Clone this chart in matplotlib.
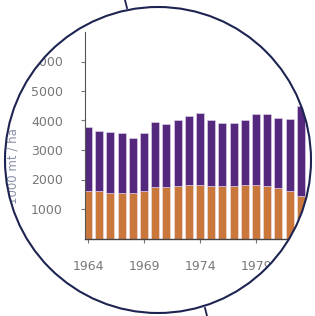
import numpy as np
import matplotlib.pyplot as plt
from matplotlib.patches import PathPatch
from matplotlib.path import Path
from matplotlib.lines import Line2D
from matplotlib.transforms import Affine2D

# data (1000 t)
years = list(range(1964, 1984))
total = [3780, 3630, 3610, 3580, 3420, 3590, 3940, 3880, 4020, 4150,
         4250, 4030, 3930, 3930, 4030, 4220, 4220, 4080, 4040, 4500]
lower = [1600, 1600, 1550, 1550, 1550, 1600, 1750, 1750, 1780, 1800,
         1800, 1780, 1780, 1780, 1800, 1820, 1780, 1720, 1600, 1450]
upper = [t - l for t, l in zip(total, lower)]
tick_years = [1964, 1969, 1974, 1979]
yticks = [1000, 2000, 3000, 4000, 5000, 6000]

W, H = 315, 316
fig = plt.figure(figsize=(W / 100, H / 100), dpi=100)
fig.patch.set_facecolor('white')
# pixel coords, origin top-left
px = Affine2D().scale(1, -1).translate(0, H).scale(1 / W, 1 / H) + fig.transFigure

# axes placed in pixel terms
x0, x1 = 85, 318
yb, yt = 238.5, 32
ax = fig.add_axes([x0 / W, 1 - yb / H, (x1 - x0) / W, (yb - yt) / H])

x = np.arange(len(years))
ax.bar(x, lower, width=0.72, color='#c9773b', edgecolor='#f3e3ee', linewidth=0.4)
ax.bar(x, upper, bottom=lower, width=0.72, color='#53287d', edgecolor='#e6d8f0', linewidth=0.4)

ax.set_xlim(-0.27, -0.27 + (x1 - x0) / 11.2)
ax.set_ylim(0, 7000)
ax.set_yticks(yticks)
ax.set_yticklabels([str(v) for v in yticks])
ax.set_xticks([years.index(y) for y in tick_years])
ax.set_xticklabels([str(y) for y in tick_years])
ax.tick_params(axis='y', direction='out', length=3, pad=13, labelsize=9,
               colors='#777777', labelcolor='#777777')
ax.tick_params(axis='x', direction='out', length=3, pad=12.5, labelsize=9,
               colors='#777777', labelcolor='#777777')
for s in ['top', 'right']:
    ax.spines[s].set_visible(False)
ax.spines['left'].set_color('#555555')
ax.spines['left'].set_linewidth(0.8)
ax.spines['bottom'].set_color('#444444')
ax.spines['bottom'].set_linewidth(1.0)
ax.set_ylabel('1000 mt / ha', fontsize=8.5, color='#8890a8')
ax.yaxis.set_label_coords((19 - x0) / (x1 - x0), (yb - 166) / (yb - yt))

# magnifier: white mask outside the circle, then the rim
cx, cy, r = 158, 160, 153
ring = Path.circle((cx, cy), r)
rect = Path([(-10, -10), (-10, H + 10), (W + 10, H + 10), (W + 10, -10), (-10, -10)],
            [Path.MOVETO, Path.LINETO, Path.LINETO, Path.LINETO, Path.CLOSEPOLY])
mask = Path.make_compound_path(rect, ring)
fig.add_artist(PathPatch(mask, transform=px, facecolor='white', edgecolor='none', zorder=5))
fig.add_artist(PathPatch(ring, transform=px, facecolor='none', edgecolor='#1e2452',
                         linewidth=1.5, zorder=6))

# handle lines
fig.add_artist(Line2D([125, 127], [0, 8], transform=px, color='#1e2452', linewidth=1.3, zorder=6))
fig.add_artist(Line2D([207, 205], [H, 308], transform=px, color='#1e2452', linewidth=1.3, zorder=6))

fig.savefig('out.png', dpi=100)
